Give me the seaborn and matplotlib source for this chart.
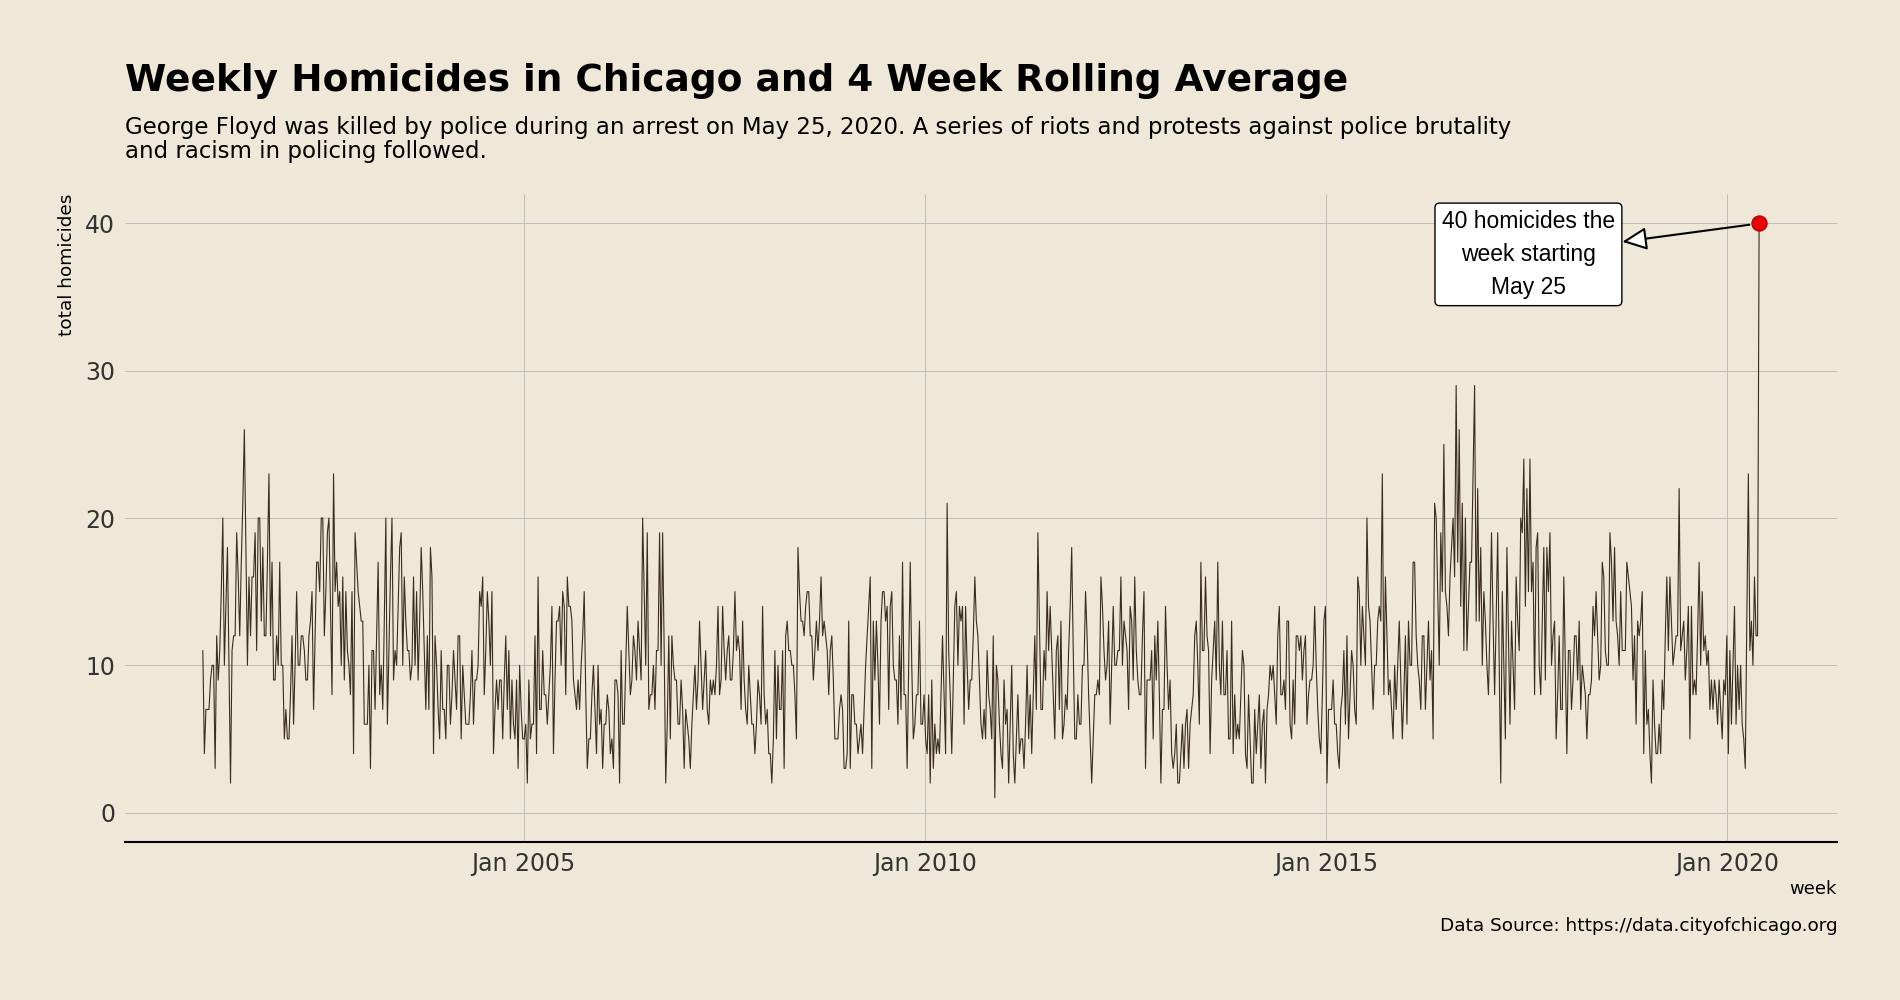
import pandas as pd
import matplotlib
matplotlib.use("Agg")
import matplotlib.pyplot as plt
import matplotlib.dates as mdates
import seaborn as sns

# weekly homicide totals, read left to right off the original chart
block1 = [11, 4, 7, 7, 7, 9, 10, 10, 3, 12, 9, 11, 15, 20, 10, 14, 18, 10, 2, 11,
          12, 12, 19, 16, 12, 17, 21, 26, 18, 10, 16, 12, 16, 16, 19, 11, 20, 20, 13, 18,
          12, 12, 17, 23, 12, 17, 9, 9, 12, 10, 17, 10, 10, 5, 7, 5, 5, 8, 12, 6,
          10, 15, 10, 10, 12, 12, 11, 9, 9, 12, 13, 15, 7, 12, 17, 17, 15, 20, 20, 12,
          15, 19]
block2 = [20, 14, 8, 23, 15, 17, 14, 15, 10, 16, 9, 15, 11, 10, 8, 15, 4, 19, 17, 15,
          14, 13, 13, 6, 6, 6, 10, 3, 11, 11, 7, 12, 17, 8, 10, 7, 13, 20, 6, 11,
          16, 20, 9, 11, 10, 14, 18, 19, 10, 16, 13, 11, 11, 9, 10, 16, 10, 15, 9, 13,
          18, 15, 11, 7, 12, 7, 18, 16, 4, 12, 10, 7, 5, 11, 7, 7, 5, 10, 10, 6,
          8, 11, 9, 7, 12, 12]
block3 = [5, 10, 8, 6, 6, 6, 8, 11, 6, 9, 9, 10, 15, 14, 16, 8, 11, 15, 13, 10,
          15, 4, 7, 9, 7, 9, 9, 5, 9, 12, 7, 11, 5, 9, 6, 5, 9, 3, 10, 7,
          5, 5, 6, 2, 9, 5, 6, 6, 12, 4, 16, 7, 7, 11, 8, 8, 6, 8, 10, 14,
          4, 9, 13, 13, 14, 10, 15, 14, 8, 16, 14, 14, 13, 9, 8, 7, 9, 7, 10, 12,
          15, 8, 3, 5, 5]
block4 = [8, 10, 7, 4, 10, 6, 7, 3, 6, 6, 8, 7, 4, 5, 3, 9, 9, 8, 2, 11,
          6, 6, 10, 14, 11, 8, 9, 12, 11, 9, 13, 11, 9, 20, 15, 10, 19, 7, 8, 8,
          10, 7, 11, 11, 19, 10, 19, 11, 2, 6, 12, 5, 12, 10, 9, 9, 6, 6, 9, 7,
          3, 7, 6, 5, 3, 6, 8, 10, 7, 9, 13, 10, 7, 9, 11, 7, 6, 9, 8, 9,
          8, 10, 14, 8, 9, 14]
block5 = [11, 9, 11, 12, 9, 9, 11, 15, 11, 12, 11, 7, 13, 9, 7, 6, 10, 8, 6, 6,
          4, 6, 9, 8, 6, 14, 8, 6, 7, 4, 4, 2, 5, 11, 5, 10, 7, 7, 11, 3,
          12, 13, 11, 11, 10, 10, 8, 5, 18, 15, 13, 13, 12, 14, 15, 15, 12, 12, 9, 11,
          13, 11, 13, 16, 12, 13, 12, 11, 8, 11, 12, 9, 5, 5, 5, 7, 8, 7, 3, 3,
          4, 13, 3, 8, 8, 6]
block6 = [6, 4, 5, 6, 4, 7, 10, 12, 14, 16, 3, 13, 9, 13, 10, 6, 13, 15, 15, 13,
          14, 7, 14, 15, 10, 9, 9, 6, 12, 7, 17, 8, 8, 3, 10, 17, 10, 5, 6, 8,
          8, 13, 6, 6, 8, 5, 4, 8, 2, 9, 3, 6, 4, 5, 4, 8, 12, 8, 4, 21,
          11, 8, 4, 9, 14, 15, 10, 14, 13, 14, 6, 14, 10, 7, 9, 9, 12, 16, 13, 12,
          9, 6, 5, 7, 5, 11]
block7 = [8, 7, 5, 12, 1, 10, 9, 6, 4, 3, 9, 6, 7, 2, 6, 10, 4, 2, 5, 8,
          4, 5, 5, 3, 6, 10, 5, 8, 4, 8, 12, 7, 19, 13, 7, 7, 11, 9, 15, 11,
          14, 11, 8, 5, 11, 12, 7, 13, 5, 6, 8, 7, 11, 14, 18, 11, 5, 5, 8, 6,
          6, 10, 10, 15, 12, 8, 5, 2, 5, 8, 8, 9, 8, 16, 14, 11, 9, 10, 13, 6,
          10, 14, 10, 10, 11, 11]
block8 = [16, 10, 13, 12, 11, 7, 14, 13, 9, 16, 11, 9, 8, 8, 12, 15, 3, 9, 9, 9,
          11, 5, 12, 9, 13, 8, 2, 7, 7, 14, 10, 7, 9, 4, 3, 4, 6, 2, 2, 4,
          6, 3, 6, 7, 3, 6, 7, 8, 12, 13, 10, 6, 17, 11, 11, 16, 12, 11, 4, 9,
          11, 13, 9, 17, 10, 8, 13, 8, 8, 11, 5, 5, 13, 4, 8, 5, 6, 5, 8, 11,
          10, 4, 3, 8, 5, 2]
block9 = [2, 7, 4, 6, 8, 3, 6, 7, 2, 7, 8, 10, 9, 10, 8, 6, 12, 14, 8, 8,
          9, 7, 13, 13, 6, 5, 9, 6, 12, 12, 11, 12, 9, 11, 12, 6, 8, 9, 9, 10,
          14, 10, 7, 5, 4, 8, 13, 14, 2, 7, 7, 7, 9, 6, 6, 4, 3, 7, 8, 11,
          6, 12, 5, 8, 11, 10, 7, 6, 16, 15, 10, 14, 12, 10, 20, 14, 13, 10, 7, 10,
          10, 13, 14, 13, 23, 8, 16]
block10 = [12, 8, 9, 7, 5, 10, 7, 10, 13, 9, 5, 8, 12, 6, 13, 10, 10, 17, 17, 12,
           10, 9, 7, 12, 12, 7, 10, 13, 9, 11, 5, 21, 20, 15, 10, 19, 15, 25, 15, 14,
           12, 16, 18, 20, 16, 29, 17, 26, 14, 21, 11, 20, 11, 14, 17, 17, 23, 29, 13, 22,
           13, 18, 10, 15, 13, 10, 8, 13, 19, 13, 8, 13, 19, 10, 2, 15, 10, 5, 18, 12,
           6, 13, 10, 7, 16]
block11 = [13, 11, 20, 19, 24, 14, 22, 15, 24, 15, 17, 8, 18, 19, 10, 8, 13, 18, 9, 18,
           15, 19, 10, 12, 13, 5, 8, 12, 7, 7, 16, 10, 4, 11, 11, 7, 9, 12, 12, 9,
           13, 7, 10, 9, 8, 5, 8, 8, 9, 14, 12, 15, 12, 9, 10, 17, 16, 11, 10, 10,
           19, 17, 13, 18, 13, 12, 10, 15, 11, 11, 11, 17, 16, 15, 14, 9, 12, 6, 13, 12,
           13, 15, 4, 11, 6]
block12 = [7, 4, 2, 9, 6, 4, 4, 6, 4, 9, 7, 12, 16, 11, 16, 13, 10, 11, 12, 12,
           22, 11, 12, 13, 9, 11, 14, 5, 14, 8, 9, 8, 12, 17, 10, 15, 11, 12, 10, 11,
           7, 9, 7, 9, 8, 6, 9, 7, 5, 9, 8, 12, 4, 11, 6, 10, 14, 6, 10, 7,
           10, 6, 5, 3, 13, 23, 11, 13, 10, 16, 12, 12, 40]

last_week = "2020-05-25"
y_ticks = [0, 10, 20, 30, 40]
peak_label = "40 homicides the\nweek starting\nMay 25"
label_week = "2017-07-10"
label_level = 37.9

title = "Weekly Homicides in Chicago and 4 Week Rolling Average"
subtitle_1 = ("George Floyd was killed by police during an arrest on May 25, 2020. "
              "A series of riots and protests against police brutality")
subtitle_2 = "and racism in policing followed."
source = "Data Source: https://data.cityofchicago.org"

BG = "#EFE8D8"
LINE = "#3A2C1E"


def build_frame():
    """Stack the blocks into one weekly series ending on the week of May 25."""
    counts = (block1 + block2 + block3 + block4 + block5 + block6
              + block7 + block8 + block9 + block10 + block11 + block12)
    weeks = pd.date_range(end=last_week, periods=len(counts), freq="W-MON")
    return pd.DataFrame({"week": weeks, "total homicides": counts})


def main():
    df = build_frame()

    sns.set_style("whitegrid")
    plt.rcParams["font.family"] = ["DejaVu Sans"]
    plt.rcParams["text.color"] = "black"
    plt.rcParams["axes.labelcolor"] = "black"

    fig = plt.figure(figsize=(19, 10), dpi=100, facecolor=BG)
    ax = fig.add_axes([0.0658, 0.158, 0.901, 0.648])
    ax.set_facecolor(BG)

    sns.lineplot(data=df, x="week", y="total homicides", color=LINE,
                 linewidth=0.8, ax=ax)
    last = df.iloc[-1]
    ax.scatter([last["week"]], [last["total homicides"]], s=120,
               color="#E60000", edgecolor="#B00000", linewidth=0.8, zorder=5)

    ax.annotate(peak_label, xy=(last["week"], last["total homicides"]),
                xytext=(pd.Timestamp(label_week), label_level), textcoords="data",
                ha="center", va="center", fontsize=16.5, family="Liberation Sans",
                linespacing=1.55,
                bbox=dict(boxstyle="round,pad=0.3,rounding_size=0.2",
                          fc="white", ec="black", lw=1),
                arrowprops=dict(arrowstyle="<|-,head_length=0.75,head_width=0.35",
                                fc="white", ec="black", lw=1.5, shrinkA=0,
                                shrinkB=7, mutation_scale=20))

    ax.set_ylim(-2, 42)
    ax.set_yticks(y_ticks)
    ax.xaxis.set_major_locator(mdates.YearLocator(5))
    ax.xaxis.set_major_formatter(mdates.DateFormatter("%b %Y"))

    ax.grid(True, color="#BDBDBD", linewidth=0.7)
    for side in ["top", "right", "left"]:
        ax.spines[side].set_visible(False)
    ax.spines["bottom"].set_color("black")
    ax.spines["bottom"].set_linewidth(1.5)
    ax.tick_params(axis="both", length=0, labelsize=17, labelcolor="#333333")
    ax.tick_params(axis="x", pad=7)
    ax.tick_params(axis="y", pad=7)

    ax.set_ylabel("total homicides", fontsize=13.3, loc="top", labelpad=7)
    ax.set_xlabel("week", fontsize=13, loc="right", labelpad=3)

    fig.text(0.0658, 0.909, title, fontsize=27, fontweight="bold",
             ha="left", va="baseline")
    fig.text(0.0658, 0.866, subtitle_1, fontsize=16.5, ha="left", va="baseline")
    fig.text(0.0658, 0.842, subtitle_2, fontsize=16.5, ha="left", va="baseline")
    fig.text(0.967, 0.074, source, fontsize=13.3, ha="right", va="center")

    fig.savefig("out.png", dpi=100, facecolor=BG)


if __name__ == "__main__":
    main()
